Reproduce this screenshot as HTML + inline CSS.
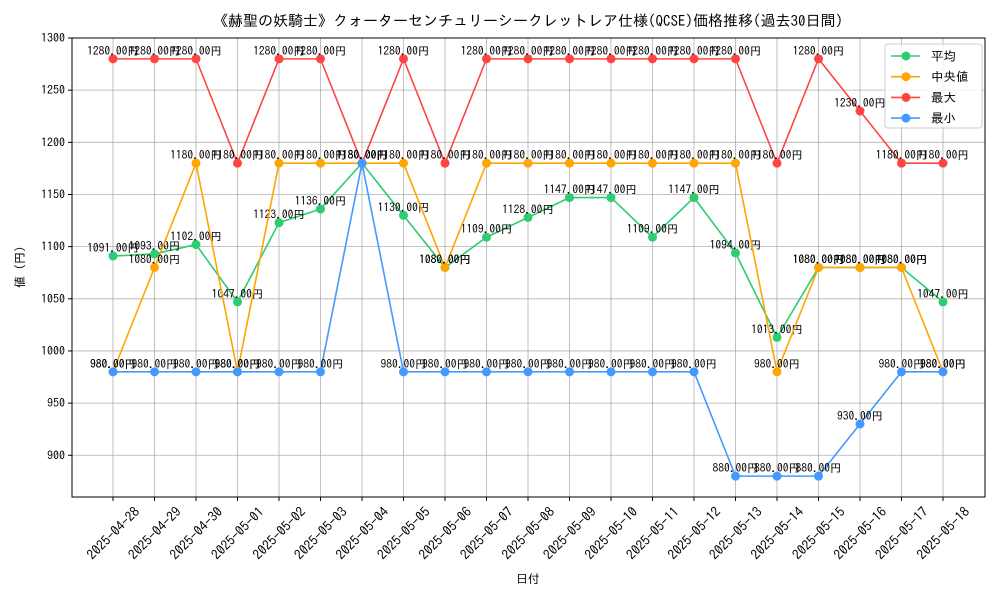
<!DOCTYPE html>
<html><head><meta charset="utf-8"><style>
body{margin:0;background:#fff}
svg text{font-family:"IPAGothic","Liberation Sans","Noto Sans CJK JP",sans-serif}
</style></head><body>
<svg id="chart" width="1000" height="600" viewBox="0 0 1000 600" xmlns="http://www.w3.org/2000/svg">
<rect width="1000" height="600" fill="#fff"/>
<text x="528" y="26" text-anchor="middle" font-size="15">《赫聖の妖騎士》クォーターセンチュリーシークレットレア仕様(QCSE)価格推移(過去30日間)</text>
<text x="528" y="583" text-anchor="middle" font-size="12">日付</text>
<text transform="translate(24,267) rotate(-90)" text-anchor="middle" font-size="12">値 (円)</text>
<g id="grid"></g><g id="axes"></g><g id="series"></g>
<rect x="72" y="38" width="913" height="459" fill="none" stroke="#000" stroke-width="1"/>
<g id="legend"></g>
</svg>
<script>
const dates=["2025-04-28","2025-04-29","2025-04-30","2025-05-01","2025-05-02","2025-05-03","2025-05-04","2025-05-05","2025-05-06","2025-05-07","2025-05-08","2025-05-09","2025-05-10","2025-05-11","2025-05-12","2025-05-13","2025-05-14","2025-05-15","2025-05-16","2025-05-17","2025-05-18"];
const avgValues=[1091,1093,1102,1047,1123,1136,1180,1130,1080,1109,1128,1147,1147,1109,1147,1094,1013,1080,1080,1080,1047];
const medianValues=[980,1080,1180,980,1180,1180,1180,1180,1080,1180,1180,1180,1180,1180,1180,1180,980,1080,1080,1080,980];
const maxValues=[1280,1280,1280,1180,1280,1280,1180,1280,1180,1280,1280,1280,1280,1280,1280,1280,1180,1280,1230,1180,1180];
const minValues=[980,980,980,980,980,980,1180,980,980,980,980,980,980,980,980,880,880,880,930,980,980];
const yTicks=[900,950,1000,1050,1100,1150,1200,1250,1300];
const seriesNames=["平均","中央値","最大","最小"];
const NS="http://www.w3.org/2000/svg";
const L=72,R=985,T=38,B=497,Y0=860,Y1=1300;
const x=i=>113+i*(943-113)/(dates.length-1);
const y=v=>B-(v-Y0)/(Y1-Y0)*(B-T);
function mk(tag,attrs,parent){const e=document.createElementNS(NS,tag);for(const k in attrs)e.setAttribute(k,attrs[k]);parent.appendChild(e);return e;}
const grid=document.getElementById('grid'),axes=document.getElementById('axes'),ser=document.getElementById('series'),leg=document.getElementById('legend');
dates.forEach((d,i)=>{
 const g=mk('line',{x1:x(i),x2:x(i),y1:T,y2:B,stroke:'#b0b0b0','stroke-width':0.8},grid);
 
 
 const tk=mk('line',{x1:x(i),x2:x(i),y1:B,y2:B+4,stroke:'#000'},axes);
 
 
 const t=mk('text',{transform:`translate(${x(i)},533) rotate(-45)`,'text-anchor':'middle','dominant-baseline':'central','font-size':13.5},axes);
 t.textContent=d;
 
 
});
yTicks.forEach(v=>{
 const g=mk('line',{x1:L,x2:R,y1:y(v),y2:y(v),stroke:'#b0b0b0','stroke-width':0.8},grid);
 
 
 const tk=mk('line',{x1:L-4,x2:L,y1:y(v),y2:y(v),stroke:'#000'},axes);
 
 
 const t=mk('text',{x:L-7,y:y(v)+4,'text-anchor':'end','font-size':12},axes);
 t.textContent=v;
 
 
});
const seriesData=[avgValues,medianValues,maxValues,minValues];
const colors=['#2ecc71','#ffa500','#ff4444','#4499ff'];
const keys=['avg','median','max','min'];
seriesData.forEach((vals,s)=>{
 const g=mk('g',{},ser);
 
 
 const p=mk('polyline',{points:vals.map((v,i)=>x(i)+','+y(v)).join(' '),fill:'none',stroke:colors[s],'stroke-width':1.6},g);
 
 
 vals.forEach((v,i)=>{
  const c=mk('circle',{cx:x(i),cy:y(v),r:4.5,fill:colors[s]},g);
  
  
 });
 vals.forEach((v,i)=>{
  const t=mk('text',{x:x(i),y:y(v)-4,'text-anchor':'middle','font-size':11.5},g);
  t.textContent=v.toFixed(2)+'円';
  
  
 });
});
const box=mk('rect',{x:885,y:44,width:97,height:84,rx:3,fill:'#fff','fill-opacity':0.8,stroke:'#ccc'},leg);


seriesNames.forEach((n,s)=>{
 const yy=56+s*20.7;
 const g=mk('g',{},leg);
 
 
 mk('line',{x1:891,x2:920,y1:yy,y2:yy,stroke:colors[s],'stroke-width':1.6},g);
 mk('circle',{cx:906,cy:yy,r:4.5,fill:colors[s]},g);
 const t=mk('text',{x:931,y:yy+4.5,'font-size':12.5},g);
 t.textContent=(s==1?' ':'')+n;
});
</script>
</body></html>
